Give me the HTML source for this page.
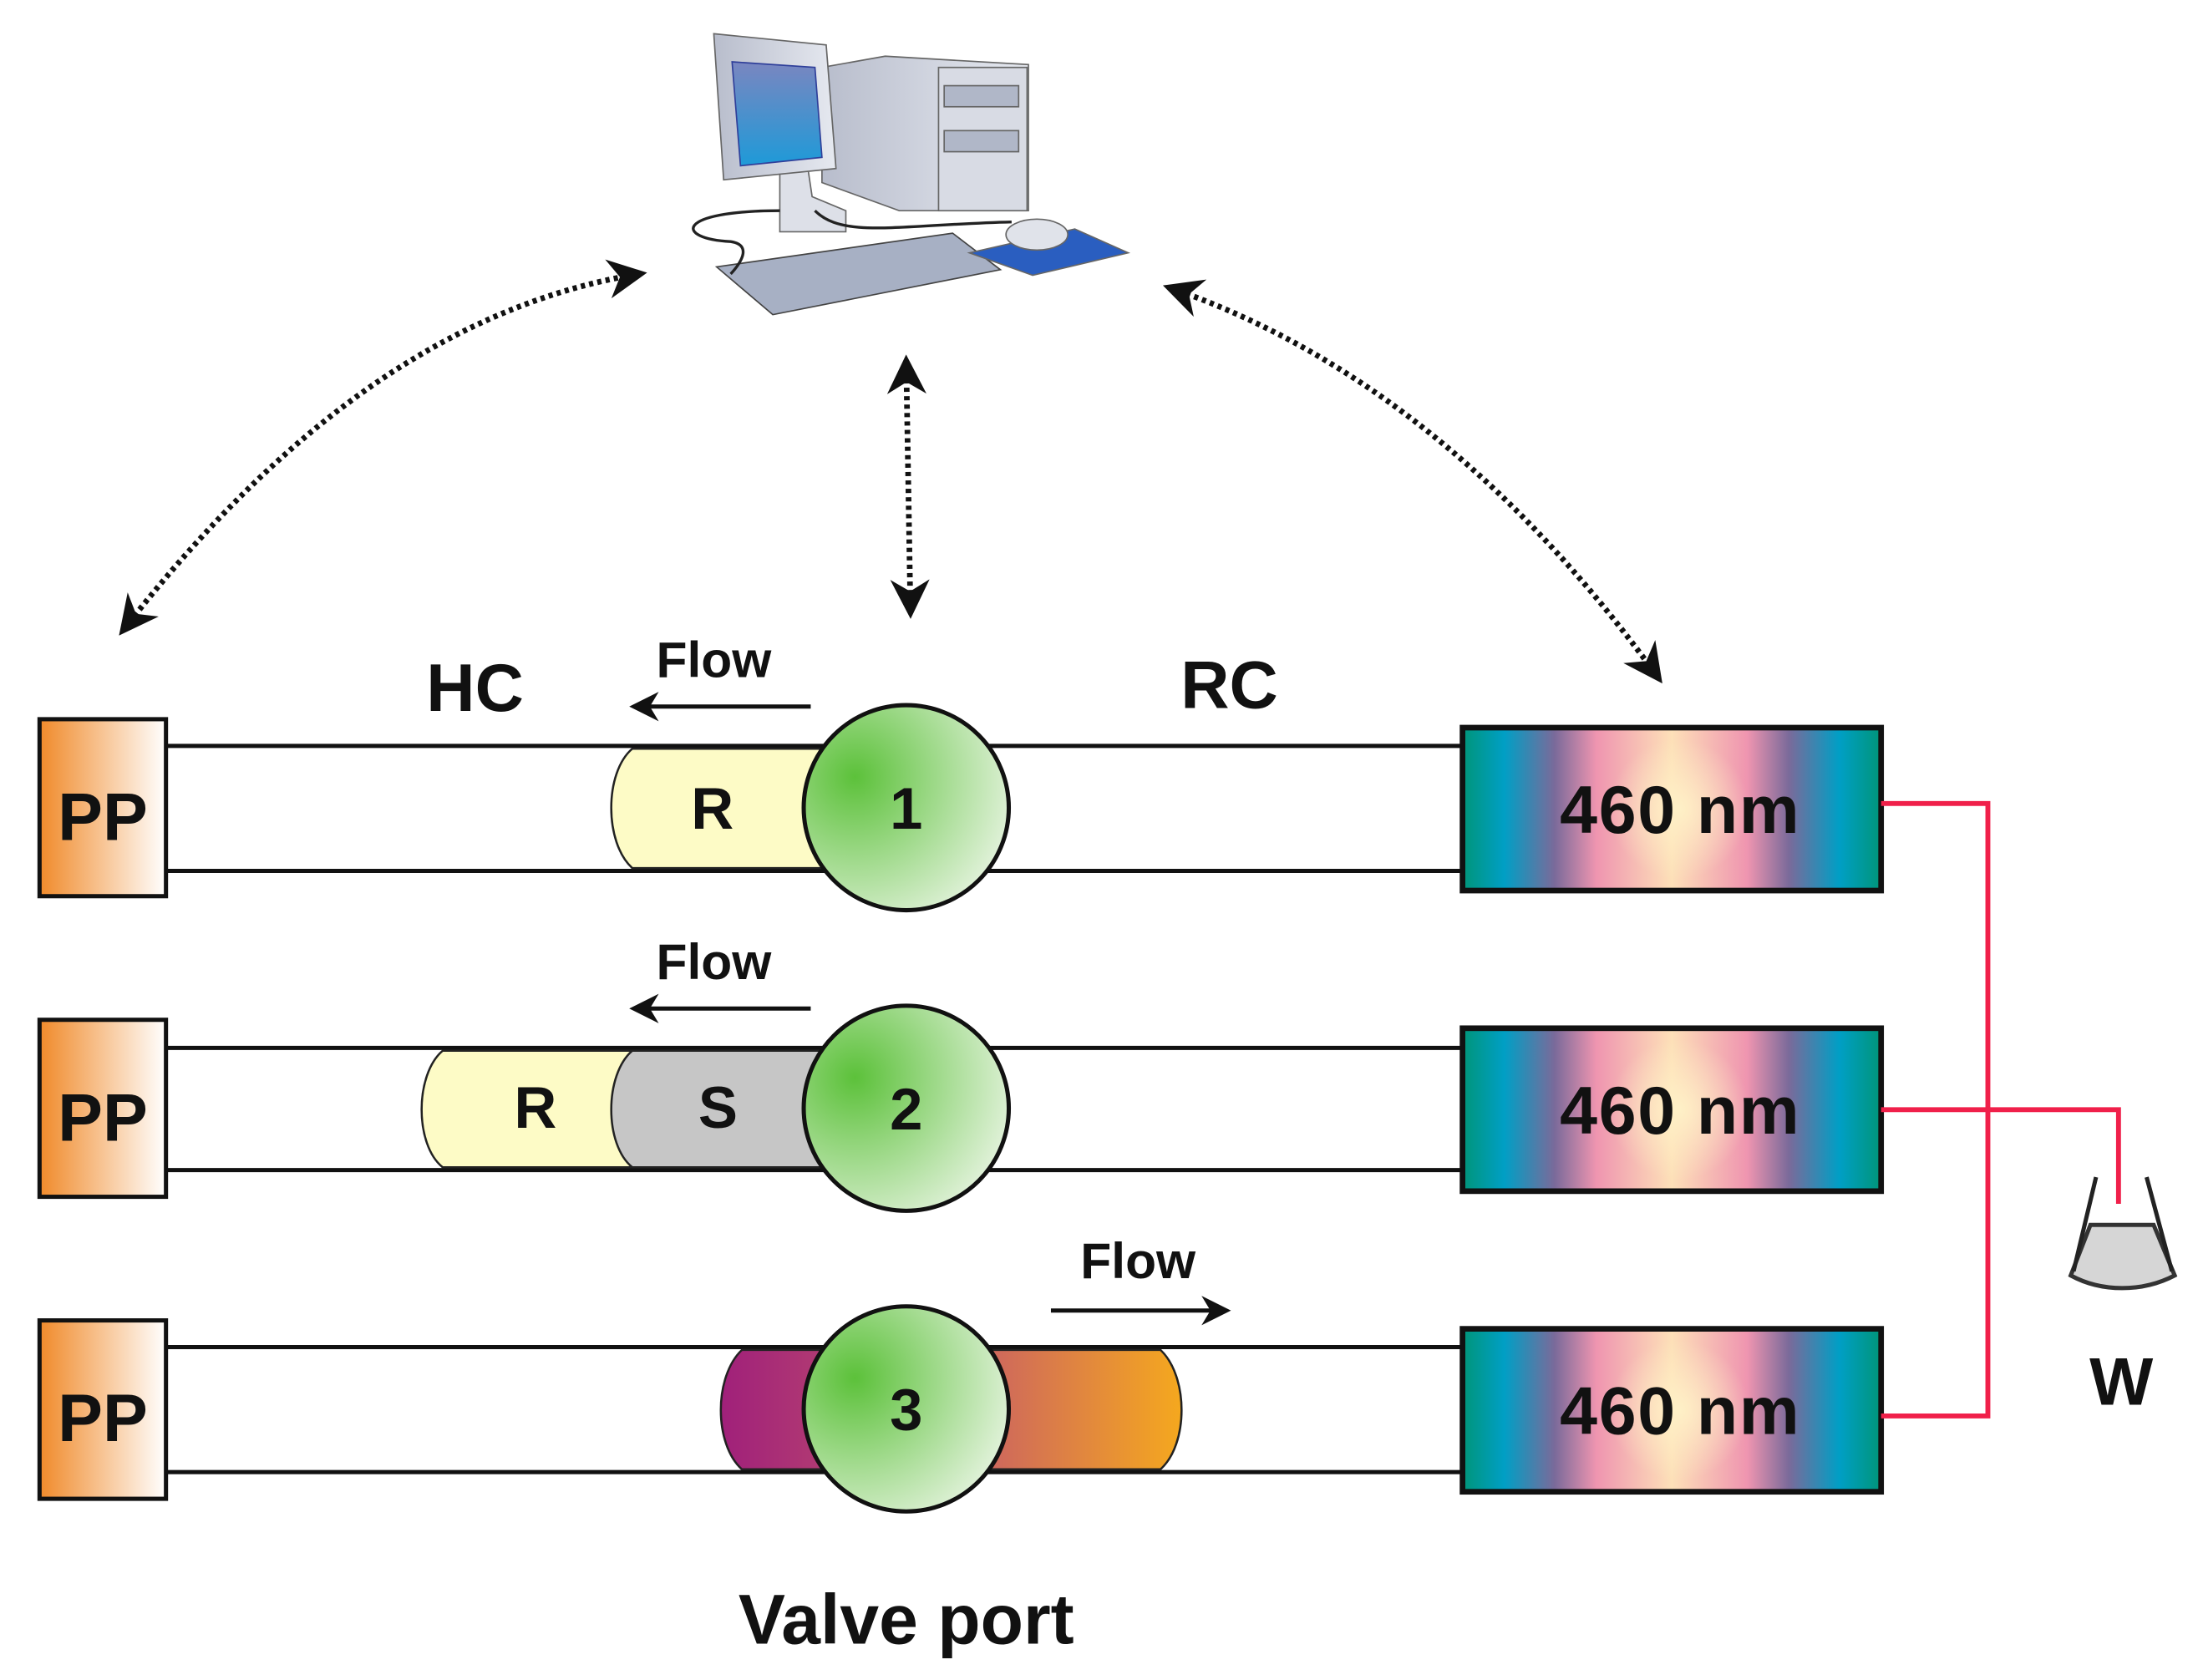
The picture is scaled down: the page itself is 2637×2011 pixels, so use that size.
<!DOCTYPE html>
<html><head><meta charset="utf-8"><style>html,body{margin:0;padding:0;background:#fff}svg{display:block}</style></head>
<body>
<svg width="2637" height="2011" viewBox="0 0 1568 1196" xmlns="http://www.w3.org/2000/svg" font-family="Liberation Sans, Arial, sans-serif" font-weight="bold">
<defs>
<linearGradient id="pp" x1="0" x2="1"><stop offset="0" stop-color="#f08a2a"/><stop offset="1" stop-color="#fff"/></linearGradient>
<radialGradient id="gc" cx="0.25" cy="0.35" r="0.9"><stop offset="0" stop-color="#5cc13a"/><stop offset="1" stop-color="#f2f8ee"/></radialGradient>
<linearGradient id="det" x1="0" x2="1">
<stop offset="0" stop-color="#009579"/><stop offset="0.1" stop-color="#009fc5"/><stop offset="0.22" stop-color="#7a6a9a"/><stop offset="0.32" stop-color="#ef95b0"/><stop offset="0.5" stop-color="#fde0b8"/><stop offset="0.68" stop-color="#ef95b0"/><stop offset="0.78" stop-color="#7a6a9a"/><stop offset="0.9" stop-color="#009fc5"/><stop offset="1" stop-color="#009579"/></linearGradient>
<radialGradient id="dh" cx="0.5" cy="0.5" r="0.5"><stop offset="0" stop-color="#fff3c8" stop-opacity="0.9"/><stop offset="1" stop-color="#fff3c8" stop-opacity="0"/></radialGradient>
<linearGradient id="mix" x1="0" x2="1"><stop offset="0" stop-color="#a0207a"/><stop offset="0.5" stop-color="#c65a6a"/><stop offset="1" stop-color="#f5a81e"/></linearGradient>
<linearGradient id="scr" x1="0" y1="0" x2="0" y2="1"><stop offset="0" stop-color="#7a86c0"/><stop offset="1" stop-color="#1e9ad8"/></linearGradient>
<linearGradient id="gray" x1="0" x2="1"><stop offset="0" stop-color="#b8bdcc"/><stop offset="1" stop-color="#e6e9f0"/></linearGradient>
<marker id="ah" viewBox="0 0 10 10" refX="8" refY="5" markerWidth="7" markerHeight="7" orient="auto-start-reverse"><path d="M0,0 L10,5 L0,10 L3,5 z" fill="#111"/></marker>
</defs>

<!-- computer -->
<g stroke="#666" stroke-width="1">
<polygon points="585,48 630,40 732,46 732,150 640,150 585,130" fill="url(#gray)"/>
<rect x="668" y="48" width="63" height="102" fill="#d8dbe4"/>
<rect x="672" y="61" width="53" height="15" fill="#b0b7c8"/>
<rect x="672" y="93" width="53" height="15" fill="#b0b7c8"/>
<polygon points="555,120 575,120 578,140 602,150 602,165 555,165" fill="#dde0e8"/>
<polygon points="508,24 588,32 595,120 515,128" fill="url(#gray)"/>
<polygon points="521,44 580,48 585,112 527,118" fill="url(#scr)" stroke="#2f3f9a"/>
<polygon points="510,190 678,166 712,192 550,224" fill="#a7b0c4" stroke="#444"/>
<polygon points="690,180 765,163 803,180 735,196" fill="#2a5ec0"/>
<ellipse cx="738" cy="167" rx="22" ry="11" fill="#e0e3ea"/>
</g>
<path d="M555,150 C480,150 480,170 520,172 C540,175 520,195 520,195" fill="none" stroke="#222" stroke-width="2"/>
<path d="M580,150 C600,170 640,160 720,158" fill="none" stroke="#222" stroke-width="2"/>

<!-- dotted arrows -->
<g fill="none" stroke="#111" stroke-width="4" stroke-dasharray="3,3">
<path d="M88,448 C180,330 300,220 455,195" marker-start="url(#ah)" marker-end="url(#ah)"/>
<path d="M645,258 L648,435" marker-start="url(#ah)" marker-end="url(#ah)"/>
<path d="M833,205 C950,245 1070,330 1180,482" marker-start="url(#ah)" marker-end="url(#ah)"/>
</g>

<!-- tubes -->
<g stroke="#111" stroke-width="3">
<line x1="118" y1="531" x2="1041" y2="531"/><line x1="118" y1="620" x2="1041" y2="620"/>
<line x1="118" y1="746" x2="1041" y2="746"/><line x1="118" y1="833" x2="1041" y2="833"/>
<line x1="118" y1="959" x2="1041" y2="959"/><line x1="118" y1="1048" x2="1041" y2="1048"/>
</g>
<!-- plugs -->
<g stroke="#222" stroke-width="1.5">
<path d="M450,533 L585,533 L585,618 L450,618 C430,600 430,550 450,533 z" fill="#fdfbc6"/>
<path d="M315,748 L450,748 L450,831 L315,831 C295,815 295,765 315,748 z" fill="#fdfbc6"/>
<path d="M450,748 L585,748 L585,831 L450,831 C430,815 430,765 450,748 z" fill="#c6c6c6"/>
<path d="M528,961 L826,961 C846,980 846,1028 826,1046 L528,1046 C508,1028 508,980 528,961 z" fill="url(#mix)"/>
</g>
<!-- valves -->
<g stroke="#111" stroke-width="3" fill="url(#gc)">
<circle cx="645" cy="575" r="73"/><circle cx="645" cy="789" r="73"/><circle cx="645" cy="1003" r="73"/>
</g>
<g font-size="42" text-anchor="middle" fill="#111">
<text x="645" y="590">1</text><text x="645" y="804">2</text><text x="645" y="1018">3</text>
<text x="507" y="590">R</text><text x="381" y="803">R</text><text x="511" y="803">S</text>
</g>
<!-- PP -->
<g stroke="#111" stroke-width="3" fill="url(#pp)">
<rect x="28" y="512" width="90" height="126"/><rect x="28" y="726" width="90" height="126"/><rect x="28" y="940" width="90" height="127"/>
</g>
<g font-size="48" fill="#111" text-anchor="middle">
<text x="73" y="598">PP</text><text x="73" y="812">PP</text><text x="73" y="1026">PP</text>
</g>
<!-- detectors -->
<g stroke="#111" stroke-width="4">
<rect x="1041" y="518" width="298" height="116" fill="url(#det)"/>
<rect x="1041" y="732" width="298" height="116" fill="url(#det)"/>
<rect x="1041" y="946" width="298" height="116" fill="url(#det)"/>
</g>
<g fill="url(#dh)"><ellipse cx="1195" cy="576" rx="50" ry="50"/><ellipse cx="1195" cy="790" rx="50" ry="50"/><ellipse cx="1195" cy="1004" rx="50" ry="50"/></g>
<g font-size="48" fill="#111" text-anchor="middle" letter-spacing="1">
<text x="1196" y="593">460 nm</text><text x="1196" y="807">460 nm</text><text x="1196" y="1021">460 nm</text>
</g>
<!-- red lines -->
<g fill="none" stroke="#f0204a" stroke-width="3.5">
<polyline points="1339,572 1415,572 1415,1008 1339,1008"/>
<polyline points="1339,790 1508,790 1508,857"/>
</g>
<!-- beaker -->
<path d="M1488,872 L1533,872 L1548,908 C1525,920 1496,920 1474,908 z" fill="#d6d6d6" stroke="#333" stroke-width="3"/>
<path d="M1492,838 L1476,905 M1528,838 L1546,905" stroke="#222" stroke-width="3"/>
<!-- labels -->
<g fill="#111">
<text x="338" y="506" font-size="48" text-anchor="middle">HC</text>
<text x="875" y="504" font-size="48" text-anchor="middle">RC</text>
<text x="508" y="482" font-size="36" text-anchor="middle">Flow</text>
<text x="508" y="697" font-size="36" text-anchor="middle">Flow</text>
<text x="810" y="910" font-size="36" text-anchor="middle">Flow</text>
<text x="1510" y="1000" font-size="48" text-anchor="middle">W</text>
<text x="645" y="1170" font-size="50" text-anchor="middle">Valve port</text>
</g>
<g stroke="#111" stroke-width="3" fill="none">
<line x1="577" y1="503" x2="452" y2="503" marker-end="url(#ah)"/>
<line x1="577" y1="718" x2="452" y2="718" marker-end="url(#ah)"/>
<line x1="748" y1="933" x2="872" y2="933" marker-end="url(#ah)"/>
</g>
</svg>
</body></html>
